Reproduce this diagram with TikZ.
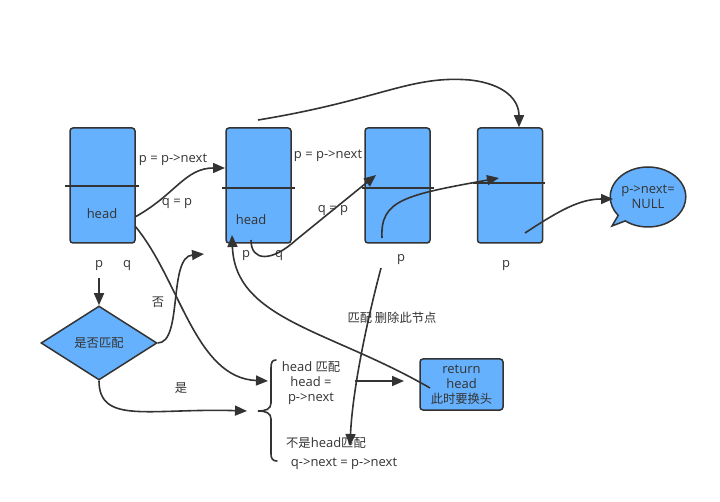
\documentclass[tikz,border=0pt]{standalone}
\usepackage{fontspec}
\setmainfont{Open Sans}
\newfontfamily\cjkfont{Noto Sans CJK SC}
\newcommand{\zh}[1]{{\cjkfont\fontsize{12.3}{15}\selectfont #1}}
\usetikzlibrary{arrows.meta,shapes.geometric,shapes.callouts}
\definecolor{nodeblue}{HTML}{66B1FD}
\definecolor{ink}{HTML}{333333}
\begin{document}
\begin{tikzpicture}[x=1pt,y=-1pt,
  font=\fontsize{13}{15}\selectfont,
  every node/.style={text=ink},
  cell/.style={draw=ink,line width=1.5pt,fill=nodeblue,rounded corners=3pt,minimum width=65pt,minimum height=115pt,inner sep=0},
  divider/.style={draw=ink,line width=1.5pt},
  conn/.style={draw=ink,line width=1.6pt},
  arr/.style={conn,-{Triangle[length=12pt,width=10pt]}},
  lbl/.style={inner sep=0,align=center}]
\useasboundingbox (0,0) rectangle (720,502);
% list cells
\node[cell] (n1) at (102.5,185.5) {};
\node[cell] (n2) at (258.5,185.5) {};
\node[cell] (n3) at (397.5,185.5) {};
\node[cell] (n4) at (510,185.5) {};
\draw[divider] (65,186) -- (139,186);
\draw[divider] (222,188) -- (295,188);
\draw[divider] (362,188) -- (434,188);
\draw[divider] (473,183) -- (545,183);
\node[lbl] (h1) at (102,214) {head};
\node[lbl] (h2) at (251,220) {head};
% callout
\node[ellipse callout,draw=ink,line width=1.5pt,fill=nodeblue,minimum width=74pt,minimum height=60pt,inner sep=0,align=center,callout absolute pointer={(612,226)}] (nul) at (648,197) {p->next=\\NULL};
% diamond
\node[diamond,draw=ink,line width=1.5pt,fill=nodeblue,minimum width=116pt,minimum height=74pt,inner sep=0] (dec) at (99,343) {\zh{是否匹配}};
% return box
\node[draw=ink,line width=1.5pt,fill=nodeblue,rounded corners=3pt,minimum width=83pt,minimum height=51pt,inner sep=0,align=center] (ret) at (461.5,384.5) {return\\head\\\zh{此时要换头}};
% labels
\node[lbl] (l1) at (173,160) {p = p->next};
\node[lbl] (l2) at (177,204) {q = p};
\node[lbl] (l3) at (328,156) {p = p->next};
\node[lbl] (l4) at (333,211) {q = p};
\node[lbl] (p1) at (99,266) {p};
\node[lbl] (q1) at (127,266) {q};
\node[lbl] (p2) at (246,256) {p};
\node[lbl] (q2) at (279,256) {q};
\node[lbl] (p3) at (401,260) {p};
\node[lbl] (p4) at (506,266) {p};
\node[lbl] (no) at (158,302) {\zh{否}};
\node[lbl] (yes) at (181,388) {\zh{是}};
\node[lbl] (del) at (392,318) {\zh{匹配 删除此节点}};
\node[lbl] (b1) at (311,383) {head \zh{匹配}\\head =\\p->next};
\node[lbl] (b2) at (326,443) {\zh{不是}head\zh{匹配}};
\node[lbl] (b3) at (344,464) {q->next = p->next};
% brace
\draw[conn,line cap=round] (276,360) .. controls (272,360) and (271,363) .. (271,368) -- (271,403) .. controls (271,409) and (266,411) .. (258,411) .. controls (266,411) and (271,413) .. (271,419) -- (271,454) .. controls (271,459) and (273,461) .. (277,461);
% coordinates
\coordinate (a1s) at (135,217);
\coordinate (a1e) at (225,168);
\coordinate (a2s) at (135,226);
\coordinate (a2e) at (268,381);
\coordinate (tops) at (258,120);
\coordinate (loops) at (251,240);
\coordinate (loope) at (376,175);
\coordinate (n3s) at (382,238);
\coordinate (n3e) at (499,178);
\coordinate (n4s) at (525,233);
\coordinate (nule) at (613,199);
\coordinate (noe) at (204,254);
\coordinate (yese) at (247,411);
\coordinate (rets) at (430,388);
\coordinate (n2b) at (232,235);
\coordinate (vs) at (381,268);
\coordinate (ve) at (350,446);
\coordinate (hs) at (355,381);
\coordinate (he) at (404,381);
% connectors
\draw[arr] (a1s) .. controls (175,195) and (185,168) .. (a1e);
\draw[arr] (a2s) .. controls (180,280) and (195,378) .. (a2e);
\draw[arr] (tops) .. controls (380,100) and (410,75) .. (470,80) .. controls (505,84) and (519,100) .. (n4.north -| 519,128);
\draw[arr] (loops) .. controls (251,262) and (272,262) .. (296,240) -- (loope);
\draw[arr] (n3s) .. controls (380,200) and (405,195) .. (n3e);
\draw[arr] (n4s) .. controls (560,210) and (580,199) .. (nule);
\draw[arr] (dec.south |- 0,278) -- (dec.north);
\draw[arr] (dec.east) .. controls (183,343) and (168,257) .. (noe);
\draw[arr] (dec.south) .. controls (99,425) and (150,408) .. (yese);
\draw[arr] (rets) .. controls (330,330) and (235,320) .. (n2b);
\draw[arr] (vs) .. controls (362,340) and (352,400) .. (ve);
\draw[arr] (hs) -- (he);
\end{tikzpicture}
\end{document}
